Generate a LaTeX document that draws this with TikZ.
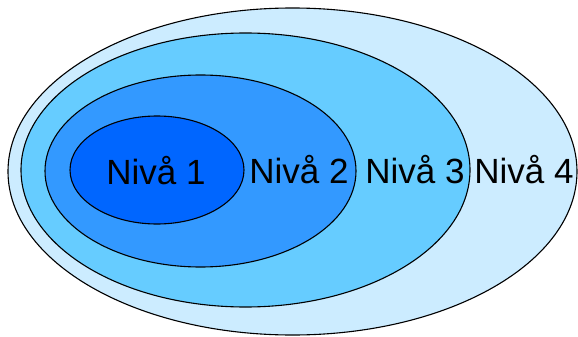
\documentclass[tikz,border=0pt]{standalone}
\usepackage{fontspec}
\setmainfont{Liberation Sans}
\definecolor{lvfour}{HTML}{CCECFF}
\definecolor{lvthree}{HTML}{66CCFF}
\definecolor{lvtwo}{HTML}{3399FF}
\definecolor{lvone}{HTML}{0066FF}
\begin{document}
\begin{tikzpicture}[x=1pt,y=-1pt,
  ring/.style={draw=black,line width=1.1pt},
  lbl/.style={font=\fontsize{35}{40}\selectfont,anchor=base,inner sep=0pt,text=black}]
\useasboundingbox (0,0) rectangle (578,337);
\fill[white] (0,0) rectangle (578,337);
\draw[ring,fill=lvfour] (292.5,171.5) ellipse [x radius=284.5,y radius=163.5];
\draw[ring,fill=lvthree] (245.5,170) ellipse [x radius=224.5,y radius=137];
\draw[ring,fill=lvtwo] (200.5,171) ellipse [x radius=155.5,y radius=96];
\draw[ring,fill=lvone] (157,170) ellipse [x radius=87,y radius=54];
\node[lbl] (n1) at (156,184) {Nivå 1};
\node[lbl] (n2) at (299,183) {Nivå 2};
\node[lbl] (n3) at (415,183) {Nivå 3};
\node[lbl] (n4) at (524,183) {Nivå 4};
\end{tikzpicture}
\end{document}
